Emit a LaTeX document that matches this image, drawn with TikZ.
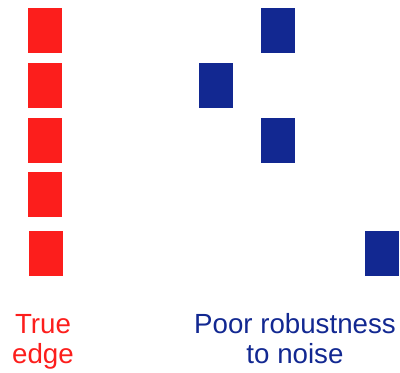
\documentclass[tikz,border=0pt]{standalone}
\usepackage{fontspec}
\setmainfont{Liberation Sans}
\definecolor{edgered}{RGB}{252,30,28}
\definecolor{noiseblue}{RGB}{18,40,145}
\tikzset{
  redbox/.style={fill=edgered, minimum width=34pt, minimum height=45pt, inner sep=0pt},
  bluebox/.style={fill=noiseblue, minimum width=34pt, minimum height=45pt, inner sep=0pt},
  caption/.style={align=center, anchor=base, inner sep=0pt,
    font=\fontsize{27.7}{30}\selectfont}
}
\begin{document}
\begin{tikzpicture}[x=1pt,y=-1pt]
  \useasboundingbox (0,0) rectangle (400,373);
  % true edge column
  \node [redbox] (r1) at (45,30.5) {};
  \node [redbox] (r2) at (45,85.5) {};
  \node [redbox] (r3) at (45,140.5) {};
  \node [redbox] (r4) at (45,194.5) {};
  \node [redbox] (r5) at (46,253.5) {};
  % noisy pixels
  \node [bluebox] (b1) at (278,30.5) {};
  \node [bluebox] (b2) at (215.5,85.5) {};
  \node [bluebox] (b3) at (277.5,140.5) {};
  \node [bluebox] (b4) at (381.5,253.5) {};
  % captions
  \node [caption, text=edgered] (truelabel) at (43,363) {True\\edge};
  \node [caption, text=noiseblue] (poorlabel) at (295,363) {Poor robustness\\to noise};
\end{tikzpicture}
\end{document}
